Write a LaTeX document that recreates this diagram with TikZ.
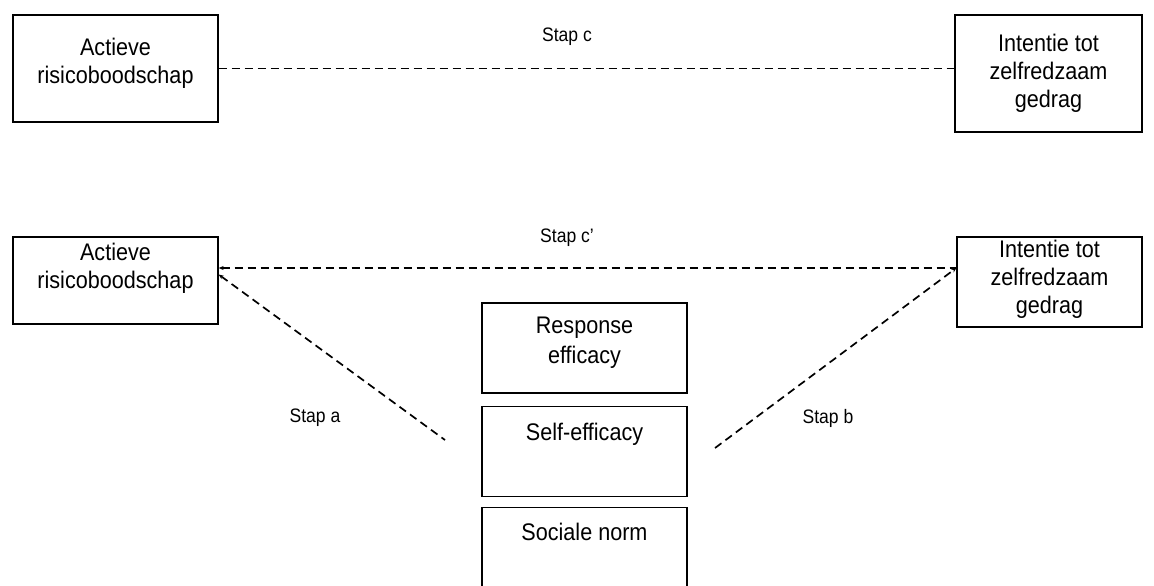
\documentclass[tikz,border=0pt]{standalone}
\usepackage{fontspec}
\setmainfont{Liberation Sans}[FakeStretch=0.9]
\usepackage{tikz}
\usetikzlibrary{positioning, arrows.meta}
\newcommand{\lift}[2]{\raisebox{#1}[\height][\depth]{#2}}

\begin{document}
\begin{tikzpicture}[x=1pt, y=-1pt, >={Stealth[length=5pt,width=4pt]},
  box/.style={draw, line width=1.3pt, align=center, inner sep=0pt,
    minimum width=205pt, minimum height=90pt, font=\fontsize{24}{28}\selectfont},
  link/.style={line width=1.7pt, dash pattern=on 8pt off 5pt},
  stap/.style={font=\fontsize{19.5}{22}\selectfont}]
\useasboundingbox (0,0) rectangle (1154,586);
% top row: direct path
\node[box, minimum height=107pt] (act1) at (115.5,68.5) {\lift{5pt}{Actieve}\\\lift{5pt}{risicoboodschap}};
\node[box, minimum width=187pt, minimum height=117pt] (int1) at (1048.5,73.5) {Intentie tot\\zelfredzaam\\gedrag};
% bottom row: mediated path
\node[box, minimum height=87pt] (act2) at (115.5,280.5) {\lift{12pt}{Actieve}\\\lift{12pt}{risicoboodschap}};
\node[box, minimum width=185pt] (int2) at (1049.5,282) {\lift{3pt}{Intentie tot}\\\lift{3pt}{zelfredzaam}\\\lift{3pt}{gedrag}};
\node[box] (resp) at (584.5,348) {\lift{5pt}{Response}\\[2pt]\lift{5pt}{efficacy}};
\node[box, below=12pt of resp] (self) {\lift{17pt}{Self-efficacy}};
\node[box, below=10pt of self] (norm) {\lift{21pt}{Sociale norm}};
\coordinate (cp) at ([yshift=12.5pt]act2.east);
\coordinate (aend) at (445,440);
\coordinate (bend) at (715,448);
\draw[link] (act1.east) -- (act1.east -| int1.west);
\draw[link, <-] (cp) -- (cp -| int2.west);
\draw[link, <-] ([yshift=6pt]act2.east) -- (aend);
\draw[link, ->] (bend) -- (cp -| int2.west);
\node[stap] (lc) at (567,37) {Stap c};
\node[stap] (lcp) at (567,238) {Stap c’};
\node[stap] (la) at (315,418) {Stap a};
\node[stap] (lb) at (828,418) {Stap b};
\end{tikzpicture}
\end{document}
